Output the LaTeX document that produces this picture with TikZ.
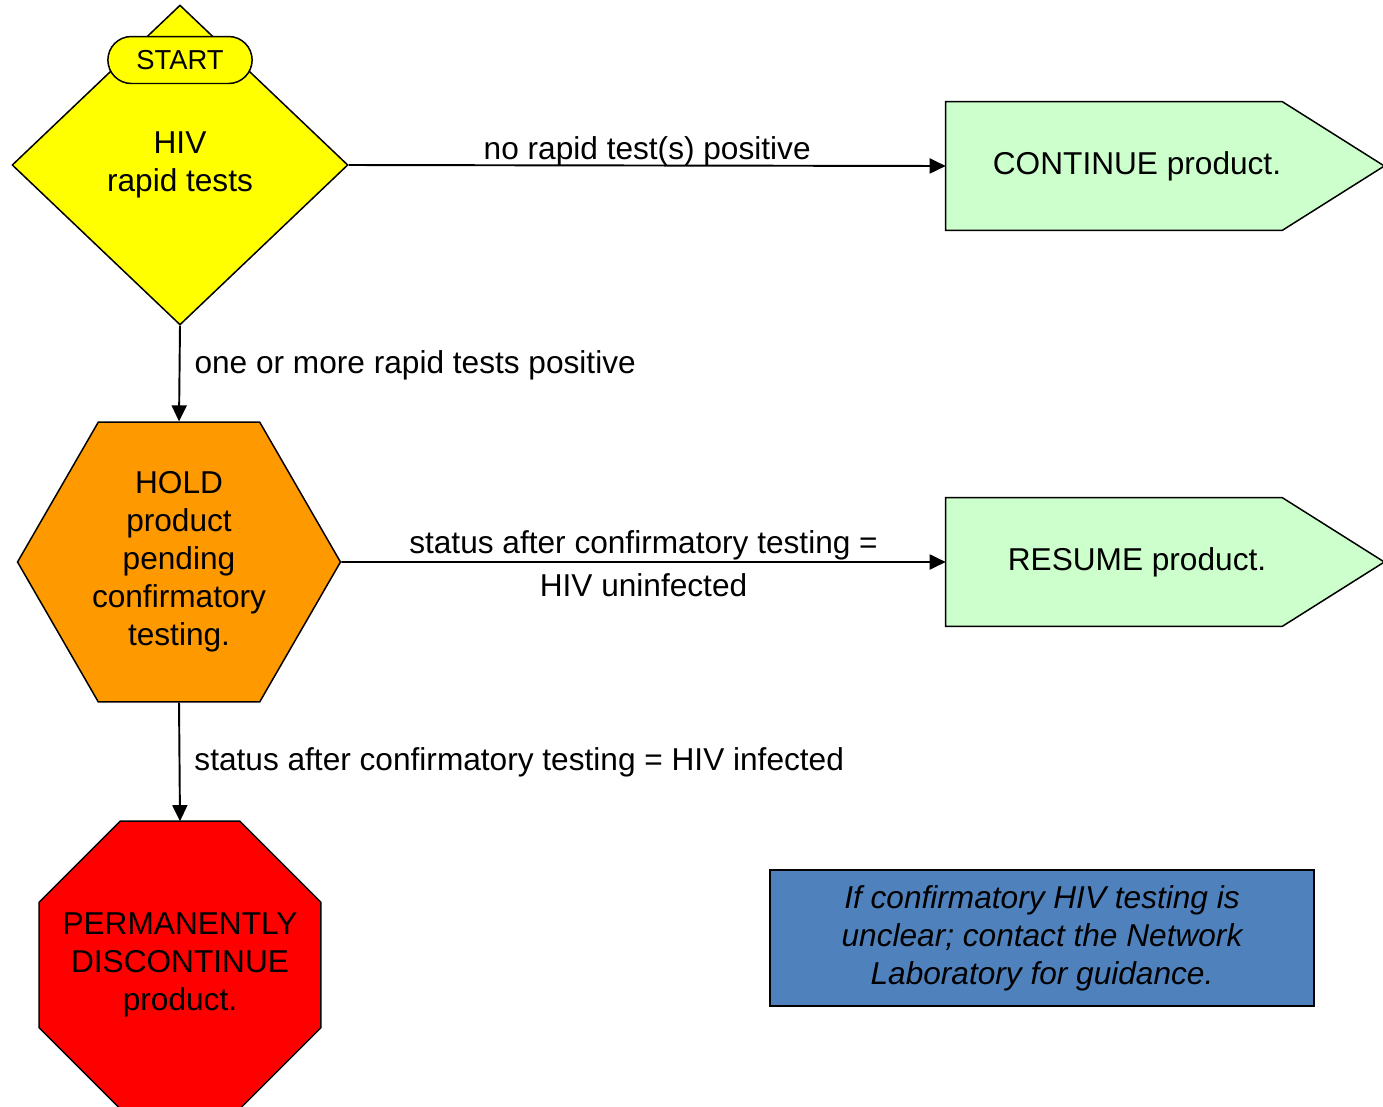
\documentclass[tikz,border=0pt]{standalone}
\usepackage{fontspec}
\setmainfont{Liberation Sans}
\usetikzlibrary{shapes.geometric,shapes.misc,arrows.meta,calc,backgrounds}
\definecolor{hivyellow}{HTML}{FFFF00}
\definecolor{holdorange}{HTML}{FF9900}
\definecolor{stopred}{HTML}{FF0000}
\definecolor{gomint}{HTML}{CCFFCC}
\definecolor{noteblue}{HTML}{4F81BD}
\tikzset{decision/.style = {shape=diamond,draw,fill=hivyellow,line width=0.85pt,minimum width=6.72cm,minimum height=6.4cm,inner sep=0pt,align=center}}
\tikzset{startbox/.style = {shape=rounded rectangle,draw,fill=hivyellow,line width=0.85pt,minimum width=3.12cm,minimum height=0.94cm,font=\fontsize{15.6}{18}\selectfont}}
\tikzset{holdbox/.style = {regular polygon,regular polygon sides=6,draw,fill=holdorange,line width=0.85pt,minimum size=6.46cm,inner sep=0pt,align=center}}
\tikzset{stopsign/.style = {minimum width=5.62cm,minimum height=5.74cm,inner sep=0pt,align=center}}
\tikzset{gobox/.style = {minimum width=7.64cm,minimum height=2.56cm,inner sep=0pt}}
\tikzset{notebox/.style = {draw,fill=noteblue,line width=1pt,minimum width=10.88cm,minimum height=2.72cm,inner sep=0pt,align=center,font=\fontsize{18}{21.6}\selectfont\itshape}}
\tikzset{edge/.style = {-{Triangle[length=0.32cm,width=0.3cm]},line width=1.1pt}}
\tikzset{lbl/.style = {inner sep=0pt}}

\begin{document}
\begin{tikzpicture}[x=0.02cm,y=-0.02cm,font=\fontsize{18}{21.6}\selectfont]
            \useasboundingbox (0,0) rectangle (1383,1106);

            % Vertices
            \node[decision] (rapid) at (180,165) {HIV\\rapid tests};
            \node[startbox] (start) at (180,60) {START};
            \node[holdbox] (hold) at (179,562) {HOLD\\product\\pending\\confirmatory\\testing.};
            \node[stopsign] (stop) at (180,965) {PERMANENTLY\\DISCONTINUE\\product.};
            \node[gobox] (cont) at (1137,166) {CONTINUE product.};
            \node[gobox] (resume) at (1137,562) {RESUME product.};
            \node[notebox] (note) at (1042,938) {If confirmatory HIV testing is\\unclear; contact the Network\\Laboratory for guidance.};

            % outlines drawn behind the text
            \begin{scope}[on background layer]
            \foreach \b in {cont,resume}
              \filldraw[fill=gomint,line width=0.85pt] (\b.north west) -- ($(\b.north east)+(-46,0)$)
                -- ($(\b.east)+(56,0)$) -- ($(\b.south east)+(-46,0)$) -- (\b.south west) -- cycle;
            \filldraw[fill=stopred,line width=0.85pt] ($(stop.north west)+(81,0)$) -- ($(stop.north east)+(-81,0)$)
              -- ($(stop.north east)+(0,81)$) -- ($(stop.south east)+(0,-81)$) -- ($(stop.south east)+(-81,0)$)
              -- ($(stop.south west)+(81,0)$) -- ($(stop.south west)+(0,-81)$) -- ($(stop.north west)+(0,81)$) -- cycle;
            \end{scope}

            % Edges
            % rapid
            \draw[edge] (rapid.east) to node[lbl,above=-0.8pt] {no rapid test(s) positive} (cont.west);
            \draw[edge] (rapid.south) to node[lbl,right=0.28cm,pos=0.41] {one or more rapid tests positive} (hold.north);

            % hold
            \draw[edge] (hold.east) to node[lbl,above=0.7pt] {status after confirmatory testing =}
              node[lbl,below=6pt] {HIV uninfected} (resume.west);
            \draw[edge] (hold.south) to node[lbl,right=0.28cm] {status after confirmatory testing = HIV infected} (stop.north);
        \end{tikzpicture}
\end{document}
